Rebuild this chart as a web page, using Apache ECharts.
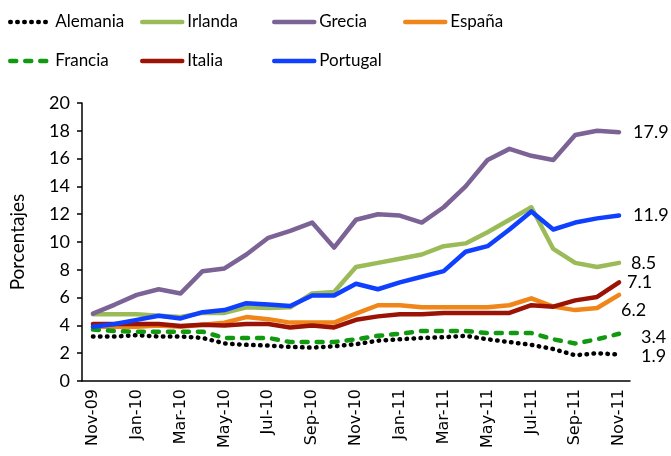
<!DOCTYPE html>
<html>
<head>
<meta charset="utf-8">
<script src="https://cdn.jsdelivr.net/npm/echarts@6/dist/echarts.min.js"></script>
<style>
html, body { margin: 0; padding: 0; background: #fff; }
#chart { width: 671px; height: 456px; }
</style>
</head>
<body>
<div id="chart"></div>
<script>
// meses, nov-09 .. nov-11
var meses = ['Nov-09', 'Dec-09', 'Jan-10', 'Feb-10', 'Mar-10', 'Apr-10', 'May-10', 'Jun-10', 'Jul-10',
  'Aug-10', 'Sep-10', 'Oct-10', 'Nov-10', 'Dec-10', 'Jan-11', 'Feb-11', 'Mar-11', 'Apr-11', 'May-11',
  'Jun-11', 'Jul-11', 'Aug-11', 'Sep-11', 'Oct-11', 'Nov-11'];

var alemania = [3.2, 3.2, 3.3, 3.2, 3.2, 3.1, 2.7, 2.6, 2.55, 2.45, 2.4, 2.5, 2.65, 2.9, 3.0, 3.1, 3.15, 3.25, 3.0, 2.8, 2.6, 2.3, 1.85, 2.0, 1.9];
var irlanda = [4.8, 4.8, 4.8, 4.7, 4.6, 4.9, 4.9, 5.3, 5.25, 5.3, 6.3, 6.4, 8.2, 8.5, 8.8, 9.1, 9.7, 9.9, 10.7, 11.6, 12.5, 9.5, 8.5, 8.2, 8.5];
var grecia = [4.85, 5.5, 6.2, 6.6, 6.3, 7.9, 8.1, 9.1, 10.3, 10.8, 11.4, 9.6, 11.6, 12.0, 11.9, 11.4, 12.5, 14.0, 15.9, 16.7, 16.2, 15.9, 17.7, 18.0, 17.9];
var espana = [3.9, 3.9, 3.9, 4.0, 3.9, 4.05, 4.2, 4.6, 4.45, 4.2, 4.2, 4.2, 4.85, 5.45, 5.45, 5.3, 5.3, 5.3, 5.3, 5.45, 5.95, 5.35, 5.1, 5.25, 6.2];
var francia = [3.7, 3.6, 3.55, 3.55, 3.55, 3.55, 3.1, 3.1, 3.1, 2.8, 2.8, 2.8, 3.0, 3.25, 3.4, 3.6, 3.6, 3.6, 3.45, 3.45, 3.45, 3.0, 2.7, 3.0, 3.4];
var italia = [4.1, 4.1, 4.1, 4.1, 3.95, 4.05, 4.0, 4.1, 4.1, 3.85, 4.0, 3.85, 4.4, 4.65, 4.8, 4.8, 4.9, 4.9, 4.9, 4.9, 5.45, 5.35, 5.8, 6.05, 7.1];
var portugal = [3.9, 4.1, 4.4, 4.7, 4.5, 4.95, 5.1, 5.6, 5.5, 5.4, 6.15, 6.15, 7.0, 6.6, 7.1, 7.5, 7.9, 9.3, 9.7, 10.9, 12.2, 10.9, 11.4, 11.7, 11.9];

var fuente = 'Lato';

function serie(nombre, datos, color, tipo, offset) {
  return {
    name: nombre,
    type: 'line',
    data: datos,
    symbol: 'none',
    lineStyle: { color: color, width: 4.5, type: tipo || 'solid', cap: 'round', join: 'round' },
    itemStyle: { color: color },
    endLabel: {
      show: true,
      color: '#000',
      fontFamily: fuente,
      fontSize: 18,
      offset: offset,
      formatter: function (p) { return p.value.toFixed(1); }
    }
  };
}

function leyenda(left, datos) {
  return {
    orient: 'vertical',
    left: left,
    top: 12,
    padding: 0,
    itemGap: 19,
    itemWidth: 40,
    itemHeight: 20,
    data: datos,
    itemStyle: { opacity: 0 },
    lineStyle: { width: 4.5 },
    textStyle: { fontFamily: fuente, fontSize: 17, color: '#000', lineHeight: 20 }
  };
}

var options = {
  animation: false,
  legend: [
    leyenda(8, ['Alemania', 'Francia']),
    leyenda(140, ['Irlanda', 'Italia']),
    leyenda(272, ['Grecia', 'Portugal']),
    leyenda(403, ['España'])
  ],
  grid: { left: 79, right: 41, top: 103, bottom: 75, containLabel: false },
  xAxis: {
    type: 'category',
    data: meses,
    boundaryGap: true,
    axisLine: { lineStyle: { color: '#000', width: 1.5 } },
    axisTick: { interval: 1, length: 5, lineStyle: { color: '#000', width: 1.5 } },
    axisLabel: { interval: 1, rotate: 90, margin: 8, color: '#000', fontFamily: 'DejaVu Sans', fontSize: 16 }
  },
  yAxis: {
    type: 'value',
    min: 0,
    max: 20,
    interval: 2,
    name: 'Porcentajes',
    nameLocation: 'middle',
    nameGap: 55,
    nameTextStyle: { fontFamily: fuente, fontSize: 19, color: '#000' },
    axisLine: { show: true, lineStyle: { color: '#000', width: 1.5 } },
    axisTick: { show: true, length: 5, lineStyle: { color: '#000', width: 1.5 } },
    axisLabel: { margin: 12, color: '#000', fontFamily: fuente, fontSize: 18 },
    splitLine: { show: false }
  },
  series: [
    serie('Alemania', alemania, '#000000', [0.5, 6.5], [14, 2]),
    serie('Irlanda', irlanda, '#9BBB59', 'solid', [4, 0]),
    serie('Grecia', grecia, '#7B6396', 'solid', [6, 0]),
    serie('España', espana, '#F08519', 'solid', [-6, 15]),
    serie('Francia', francia, '#119A11', [6, 9], [14, 3]),
    serie('Italia', italia, '#9B1305', 'solid', [0, 0]),
    serie('Portugal', portugal, '#1040FF', 'solid', [6, 0])
  ]
};

var chart = echarts.init(document.getElementById('chart'));
chart.setOption(options);
</script>
</body>
</html>
